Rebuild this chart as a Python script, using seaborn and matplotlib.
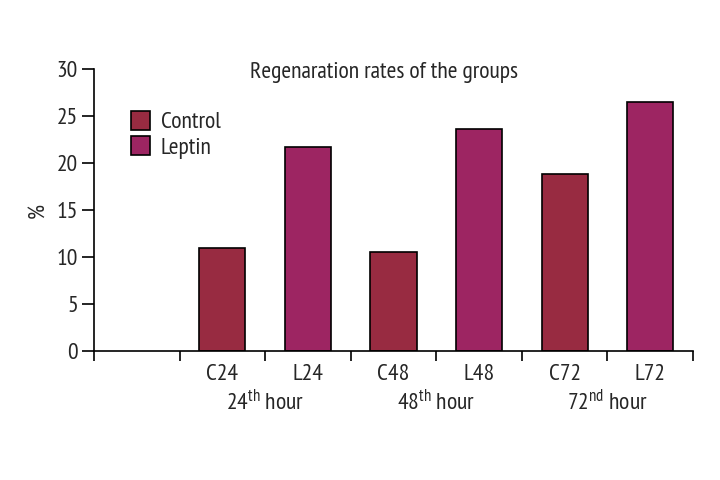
import matplotlib
matplotlib.use("Agg")
import matplotlib.pyplot as plt
from matplotlib import font_manager
import seaborn as sns
import pandas as pd

categories = ["C24", "L24", "C48", "L48", "C72", "L72"]
groups = ["Control", "Leptin", "Control", "Leptin", "Control", "Leptin"]
values = [11.0, 21.7, 10.5, 23.6, 18.8, 26.5]
hour_labels = [r"24$^{\mathrm{th}}$ hour", r"48$^{\mathrm{th}}$ hour", r"72$^{\mathrm{nd}}$ hour"]
yticks = [0, 5, 10, 15, 20, 25, 30]
title = "Regenaration rates of the groups"

sns.set_style("ticks")
avail = {f.name for f in font_manager.fontManager.ttflist}
fam = "Liberation Sans"
for cand in ["PT Sans Narrow", "Roboto Condensed", "Fira Sans Condensed",
             "Archivo Narrow", "Asap Condensed"]:
    if cand in avail:
        fam = cand
        break
plt.rcParams["font.family"] = [fam, "DejaVu Sans"]
plt.rcParams["mathtext.fontset"] = "custom"
plt.rcParams["mathtext.rm"] = fam
plt.rcParams["mathtext.it"] = fam

df = pd.DataFrame({"cat": categories, "group": groups, "val": values})
palette = {"Control": "#982B41", "Leptin": "#9D2562"}

fig = plt.figure(figsize=(7.2, 4.8), dpi=100)
ax = fig.add_axes([94/720, (480-351)/480, 599/720, 282/480])
sns.barplot(data=df, x="cat", y="val", hue="group", order=categories,
            palette=palette, dodge=False, width=0.54, saturation=1,
            edgecolor="black", linewidth=1.2, ax=ax, legend=True)
for p in ax.patches:
    p.set_edgecolor("black")
    p.set_linewidth(1.2)

ax.set_xlim(-1.5, 5.5)
ax.set_ylim(0, 30)
ax.set_yticks(yticks)
ax.set_yticklabels([str(t) for t in yticks], fontsize=17)
ax.set_xticks([i - 0.5 for i in range(-1, 7)])
ax.set_xticklabels([])
ax.set_xticks(range(len(categories)), minor=True)
ax.set_xticklabels(categories, minor=True, fontsize=17)
ax.tick_params(axis="x", which="minor", length=0, pad=9)
ax.tick_params(axis="x", which="major", length=7.5, width=1.2, color="black")
ax.tick_params(axis="y", length=8.5, width=1.2, color="black", pad=3)
ax.set_xlabel("")
ax.set_ylabel("%", fontsize=17, labelpad=5)
for s in ["top", "right"]:
    ax.spines[s].set_visible(False)
for s in ["left", "bottom"]:
    ax.spines[s].set_linewidth(1.2)
    ax.spines[s].set_color("black")

for i, lab in enumerate(hour_labels):
    ax.text(2 * i + 0.5, -5.5, lab, ha="center", va="center", fontsize=17)

ax.text(0.484, 0.986, title, transform=ax.transAxes, ha="center", va="center", fontsize=17)

handles, labels = ax.get_legend_handles_labels()
leg = ax.legend(handles, labels, loc="upper left", bbox_to_anchor=(0.046, 0.885),
                frameon=False, fontsize=17, handlelength=0.8, handleheight=0.85,
                handletextpad=0.45, labelspacing=0.12, borderaxespad=0)
for h in leg.legend_handles:
    h.set_edgecolor("black")
    h.set_linewidth(1.2)

fig.savefig("out.png", dpi=100)
